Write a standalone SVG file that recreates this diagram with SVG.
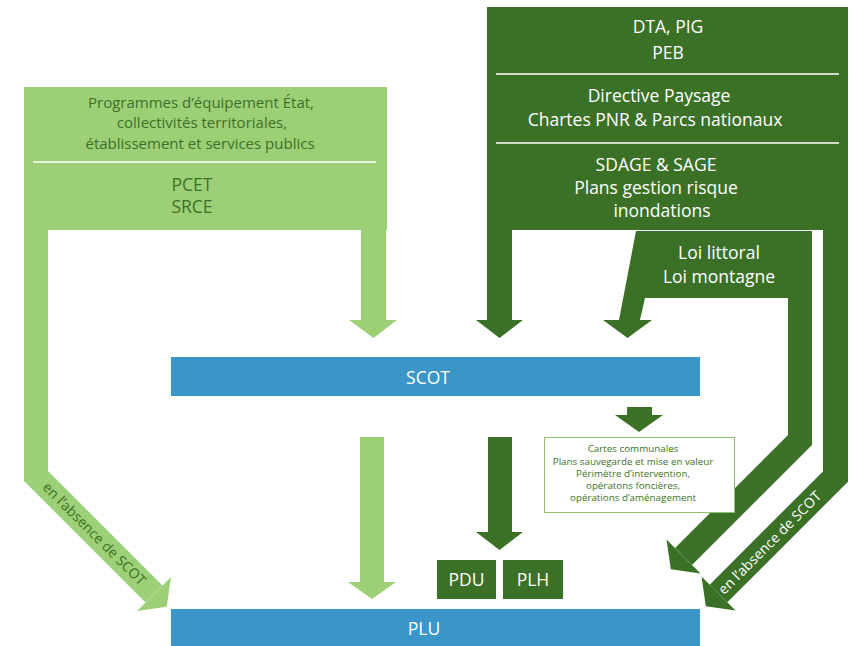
<svg xmlns="http://www.w3.org/2000/svg" width="854" height="646" viewBox="0 0 854 646">
<style>
.lg{fill:#9dcf77}
.dg{fill:#3b7126}
.bl{fill:#3a96c9}
.lgs{fill:none;stroke:#9dcf77;stroke-linejoin:miter;stroke-miterlimit:10}
.dgs{fill:none;stroke:#3b7126;stroke-linejoin:miter;stroke-miterlimit:10}
.div{stroke:#ffffff;stroke-width:1.6}
text{font-family:"Open Sans","Noto Sans","Liberation Sans",sans-serif;text-anchor:middle}
.w{fill:#ffffff}
.g{fill:#3b7126}
.t17{font-size:17.5px}
.t15{font-size:15px}
.t10{font-size:9.8px}
.t13{font-size:14px}
</style>
<rect width="854" height="646" fill="#ffffff"/>
<g id="light-source">
<rect class="lg" x="24" y="87" width="363" height="143"/>
<line class="div" x1="33" y1="162" x2="376" y2="162"/>
<text class="t15 g" x="201" y="108">Programmes d’équipement État,</text>
<text class="t15 g" x="202" y="128">collectivités territoriales,</text>
<text class="t15 g" x="200" y="149">établissement et services publics</text>
<text class="t17 g" x="192" y="191">PCET</text>
<text class="t17 g" x="192" y="213">SRCE</text>
</g>
<g id="dark-source">
<rect class="dg" x="487" y="7" width="361" height="223"/>
<line class="div" x1="496" y1="74" x2="839" y2="74"/>
<line class="div" x1="496" y1="143" x2="839" y2="143"/>
<text class="t17 w" x="668" y="33">DTA, PIG</text>
<text class="t17 w" x="668" y="59">PEB</text>
<text class="t17 w" x="659" y="102">Directive Paysage</text>
<text class="t17 w" x="655" y="126">Chartes PNR &amp; Parcs nationaux</text>
<text class="t17 w" x="656" y="171">SDAGE &amp; SAGE</text>
<text class="t17 w" x="656" y="194">Plans gestion risque</text>
<text class="t17 w" x="662" y="217">inondations</text>
</g>
<g id="loi">
<polygon class="dg" points="636,231 812,231 812,298 645,298 640,320 619,320"/>
<text class="t17 w" x="719" y="259">Loi littoral</text>
<text class="t17 w" x="719" y="283">Loi montagne</text>
</g>
<g id="connectors">
<path class="lgs" stroke-width="24" d="M36,229 V476 L154,594"/>
<polygon class="lg" points="171,577 137,611 166.7,606.7"/>
<rect class="lg" x="361" y="229" width="25" height="92"/>
<polygon class="lg" points="349,320 397,320 373.5,338"/>
<rect class="lg" x="360" y="437" width="24" height="146"/>
<polygon class="lg" points="348,582 396,582 372,599"/>
<rect class="dg" x="487" y="229" width="25" height="92"/>
<polygon class="dg" points="476,320 523,320 499.5,338"/>
<polygon class="dg" points="603,320 652,320 627.5,338"/>
<path class="dgs" stroke-width="25" d="M835.5,229 V476.5 L718.5,593.5"/>
<polygon class="dg" points="735.5,610.5 701.5,576.5 705.8,606.2"/>
<path class="dgs" stroke-width="24" d="M800,297 V440 L683.5,556.5"/>
<polygon class="dg" points="700.5,573.5 666.5,539.5 670.8,569.2"/>
<rect class="dg" x="488" y="437" width="24" height="96"/>
<polygon class="dg" points="476,532 523,532 499.5,550"/>
<rect class="dg" x="627" y="407" width="25" height="9"/>
<polygon class="dg" points="615,415 663,415 639,432"/>
<text class="t13 g" transform="translate(94,534) rotate(45)" x="0" y="4.5">en l’absence de SCOT</text>
<text class="t13 w" transform="translate(770,543) rotate(-45)" x="0" y="4.5">en l’absence de SCOT</text>
</g>
<g id="scot">
<rect class="bl" x="171" y="357" width="529" height="39"/>
<text class="t17 w" x="428" y="384">SCOT</text>
</g>
<g id="cartes">
<rect x="544.5" y="437.5" width="190" height="75" fill="#ffffff" stroke="#8dc26d" stroke-width="1"/>
<text class="t10 g" x="633" y="452">Cartes communales</text>
<text class="t10 g" x="633" y="465">Plans sauvegarde et mise en valeur</text>
<text class="t10 g" x="633" y="477">Périmètre d’intervention,</text>
<text class="t10 g" x="633" y="489">opératons foncières,</text>
<text class="t10 g" x="633" y="501">opérations d’aménagement</text>
</g>
<g id="pdu">
<rect class="dg" x="437" y="560" width="59" height="39"/>
<text class="t17 w" x="466.5" y="586">PDU</text>
</g>
<g id="plh">
<rect class="dg" x="503" y="560" width="60" height="39"/>
<text class="t17 w" x="533" y="586">PLH</text>
</g>
<g id="plu">
<rect class="bl" x="171" y="609" width="529" height="37"/>
<text class="t17 w" x="424" y="635">PLU</text>
</g>
</svg>
